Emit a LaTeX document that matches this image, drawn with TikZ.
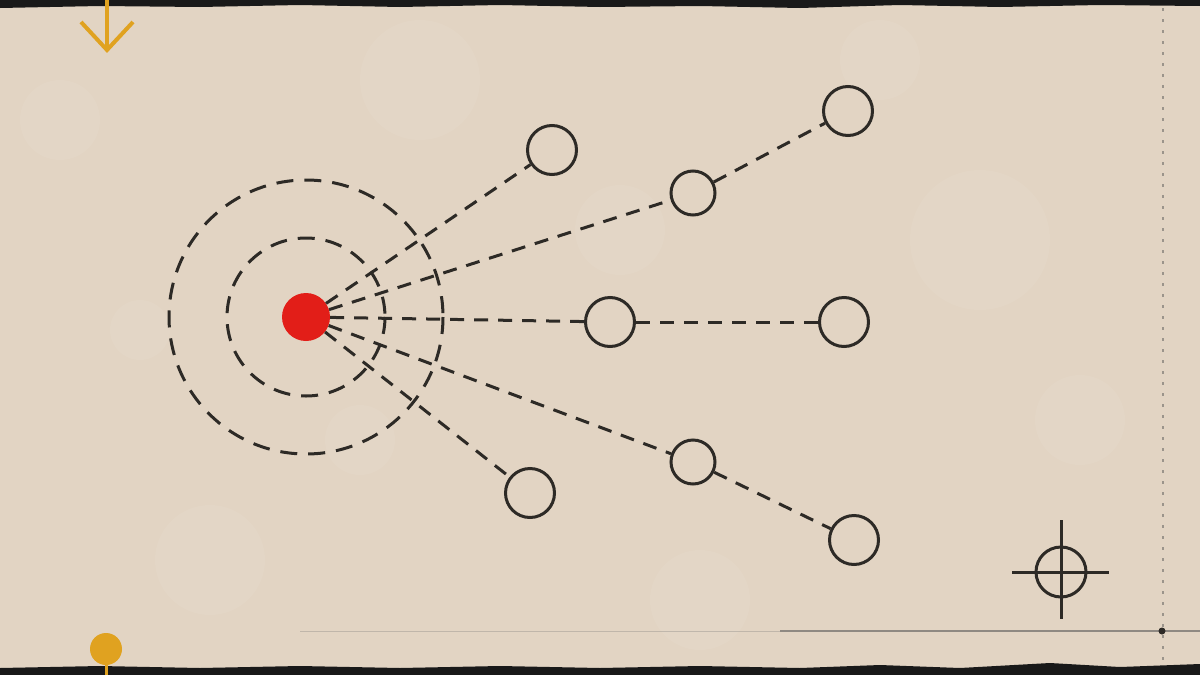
\documentclass[tikz,border=0pt]{standalone}
\usetikzlibrary{calc}
\definecolor{paper}{RGB}{226,212,195}
\definecolor{ink}{RGB}{45,42,38}
\definecolor{dotred}{RGB}{226,30,24}
\definecolor{amber}{RGB}{224,162,32}
\tikzset{
  ring/.style={circle,draw=ink,line width=3pt,minimum size=49pt,inner sep=0pt,fill=paper},
  smallring/.style={ring,minimum size=44pt},
  link/.style={draw=ink,line width=3pt,dash pattern=on 14pt off 10pt},
  halo/.style={draw=ink,line width=3pt,dash pattern=on 17pt off 11pt},
  marker/.style={draw=ink,line width=3pt},
}
\begin{document}
\begin{tikzpicture}[x=1pt,y=-1pt]
\useasboundingbox (0,0) rectangle (1200,675);
\fill[paper] (0,0) rectangle (1200,675);
% subtle paper mottling
\foreach \px/\py/\pr in {60/120/40,210/560/55,420/80/60,700/600/50,980/240/70,1080/420/45,360/440/35,880/60/40,140/330/30,620/230/45}
  \fill[white,opacity=0.05] (\px,\py) circle (\pr);
% top and bottom dark bands
\fill[black!90] (0,0) -- (1200,0) -- (1200,6) -- (1100,5) -- (1000,7) -- (900,5) -- (800,8) -- (700,6) -- (600,7) -- (500,5) -- (400,7) -- (300,5) -- (200,7) -- (100,6) -- (0,8) -- cycle;
\fill[black!90] (0,675) -- (1200,675) -- (1200,664) -- (1120,667) -- (1050,663) -- (960,668) -- (880,665) -- (800,668) -- (700,666) -- (600,668) -- (500,666) -- (400,668) -- (300,666) -- (200,668) -- (100,666) -- (0,668) -- cycle;
% right margin dotted rule and bottom rule
\draw[ink!70,line width=1.3pt,dash pattern=on 3pt off 8pt,opacity=0.6] (1163,8) -- (1163,666);
\draw[ink!60,line width=1pt,opacity=0.35] (300,631) -- (780,631);
\draw[ink!70,line width=1.2pt,opacity=0.7] (780,631) -- (1200,631);
\coordinate (corner) at (1162,631);
\fill[ink] (corner) circle (3.5);
% halos
\coordinate (cen) at (306,317);
\draw[halo] (cen) circle (79);
\draw[halo] (cen) circle (137);
% source
\node[circle,fill=dotred,minimum size=48pt,inner sep=0pt] (src) at (cen) {};
% receivers
\node[ring] (A) at (552,150) {};
\node[smallring] (B) at (693,193) {};
\node[ring] (C) at (848,111) {};
\node[ring] (D) at (610,322) {};
\node[ring] (E) at (844,322) {};
\node[smallring] (F) at (693,462) {};
\node[ring] (G) at (530,493) {};
\node[ring] (H) at (854,540) {};
% links
\draw[link] (src) -- (A);
\draw[link] (src) -- (B);
\draw[link] (B) -- (C);
\draw[link] (src) -- (D);
\draw[link] (D) -- (E);
\draw[link] (src) -- (F);
\draw[link] (F) -- (H);
\draw[link] (src) -- (G);
% crosshair
\node[circle,draw=ink,line width=3pt,minimum size=50pt,inner sep=0pt] (xh) at (1061,572) {};
\draw[marker] (1012,572) -- (1109,572);
\draw[marker] (1061,520) -- (1061,619);
% amber arrow at top
\coordinate (atop) at (107,0);
\coordinate (atip) at (107,50);
\draw[amber,line width=4pt] (atop) -- (atip);
\draw[amber,line width=4pt,line join=miter] (81,22) -- (atip) -- (133,22);
% amber pin at bottom
\node[circle,fill=amber,minimum size=32pt,inner sep=0pt] (pin) at (106,649) {};
\coordinate (pinend) at (106,675);
\draw[amber,line width=3pt] (pin.south) -- (pinend);
\end{tikzpicture}
\end{document}
